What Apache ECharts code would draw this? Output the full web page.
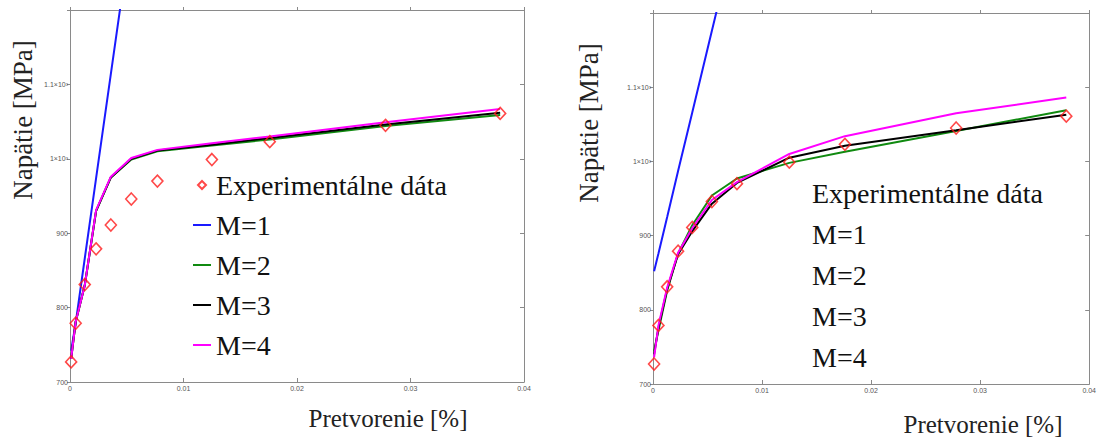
<!DOCTYPE html>
<html>
<head>
<meta charset="utf-8">
<script src="https://cdn.jsdelivr.net/npm/echarts@6/dist/echarts.min.js"></script>
<style>html,body{margin:0;padding:0;background:#fff}#c{width:1099px;height:439px}</style>
</head>
<body>
<div id="c"></div>
<script>
// ---- data ----
var strain = [0.0001, 0.0005, 0.0013, 0.0023, 0.0036, 0.0054, 0.0077, 0.0125, 0.0176, 0.0278, 0.0379];
var expStress = [727, 779, 831, 879, 911, 946, 970, 999, 1023, 1045, 1061];

// left panel models
var leftM1 = [742, 779, 866, 974, 1114, 1308];
var leftM2 = [731, 781, 830, 930, 975, 999, 1010, 1018, 1026, 1044, 1059];
var leftM3 = [731, 781, 830, 930, 975, 1000, 1011, 1019, 1028, 1046, 1062];
var leftM4 = [731, 781, 830, 931, 976, 1001, 1012, 1021, 1030, 1049, 1067];

// right panel models
var rightM1 = [852, 876, 925, 987, 1066, 1176, 1316];
var rightM2 = [745, 772, 826, 876, 914, 954, 977, 998, 1013, 1041, 1069];
var rightM3 = [740, 776, 828, 875, 906, 943, 971, 1005, 1021, 1042, 1063];
var rightM4 = [736, 779, 830, 877, 910, 948, 972, 1010, 1034, 1065, 1086];

var seriesNames = ['Experimentálne dáta', 'M=1', 'M=2', 'M=3', 'M=4'];
var yTicks = {700: '700', 800: '800', 900: '900', 1000: '1×10³', 1100: '1.1×10³'};
var xTickDecimals = 2;

function pairs(xs, ys) {
  var out = [];
  for (var i = 0; i < ys.length; i++) out.push([xs[i], ys[i]]);
  return out;
}

var serif = 'Liberation Serif';
var sans = 'Liberation Sans';
var frameColor = '#8a8a8a';
var labelColor = '#555';

function xAxisPair(gridIndex) {
  return [
    {
      type: 'value', gridIndex: gridIndex, min: 0, max: 0.04, interval: 0.01, position: 'bottom',
      axisLine: {show: true, onZero: false, lineStyle: {color: frameColor, width: 1}},
      axisTick: {show: true, inside: true, length: 4, lineStyle: {color: frameColor}},
      splitLine: {show: false},
      axisLabel: {show: true, margin: 3, fontSize: 7, fontFamily: sans, color: labelColor,
        formatter: function (v) { return v === 0 ? '0' : v.toFixed(xTickDecimals); }}
    },
    {
      type: 'value', gridIndex: gridIndex, min: 0, max: 0.04, interval: 0.01, position: 'top',
      axisLine: {show: true, onZero: false, lineStyle: {color: frameColor, width: 1}},
      axisTick: {show: true, inside: false, length: 3, lineStyle: {color: frameColor}},
      splitLine: {show: false}, axisLabel: {show: false}
    }
  ];
}
function yAxisPair(gridIndex) {
  return [
    {
      type: 'value', gridIndex: gridIndex, min: 700, max: 1200, interval: 100, position: 'left',
      axisLine: {show: true, onZero: false, lineStyle: {color: frameColor, width: 1}},
      axisTick: {show: true, inside: false, length: 3, lineStyle: {color: frameColor}},
      splitLine: {show: false},
      axisLabel: {show: true, margin: 2, fontSize: 7, fontFamily: sans, color: labelColor,
        formatter: function (v) { return yTicks[v] || ''; }}
    },
    {
      type: 'value', gridIndex: gridIndex, min: 700, max: 1200, interval: 100, position: 'right',
      axisLine: {show: true, onZero: false, lineStyle: {color: frameColor, width: 1}},
      axisTick: {show: true, inside: true, length: 4, lineStyle: {color: frameColor}},
      splitLine: {show: false}, axisLabel: {show: false}
    }
  ];
}

function lineSeries(name, color, data, gi) {
  return {
    name: name, type: 'line', xAxisIndex: gi * 2, yAxisIndex: gi * 2,
    data: data, symbol: 'none', clip: true, animation: false,
    lineStyle: {color: color, width: 2}, itemStyle: {color: color}, z: 2
  };
}
function expSeries(gi) {
  return {
    name: seriesNames[0], type: 'scatter', xAxisIndex: gi * 2, yAxisIndex: gi * 2,
    data: pairs(strain, expStress), symbol: 'diamond', symbolSize: [11, 12], animation: false,
    itemStyle: {color: 'rgba(255,255,255,0)', borderColor: '#ff1a1a', borderWidth: 1.6}, z: 3
  };
}

var blue = '#1a1aff', green = '#108a10', black = '#000000', magenta = '#ff00ff';
var lineIcon = 'path://M0,0L18,0L18,2L0,2Z';
var diamondIcon = 'path://M4,0L8,4L4,8L0,4Z';

var leftLegendData = seriesNames.map(function (n, i) {
  return {name: n, icon: i === 0 ? diamondIcon : lineIcon};
});

var option = {
  backgroundColor: '#ffffff',
  animation: false,
  grid: [
    {left: 70, top: 10, width: 454, height: 372},
    {left: 653, top: 13, width: 442, height: 371}
  ],
  xAxis: xAxisPair(0).concat(xAxisPair(1)),
  yAxis: yAxisPair(0).concat(yAxisPair(1)),
  legend: [
    {
      data: leftLegendData, orient: 'vertical', left: 193, top: 171, padding: 0, selectedMode: false,
      itemWidth: 18, itemHeight: 8, itemGap: 12, symbolKeepAspect: true,
      textStyle: {fontFamily: serif, fontSize: 28, lineHeight: 28, color: '#111'}
    },
    {
      data: seriesNames, orient: 'vertical', left: 806, top: 179, padding: 0, selectedMode: false,
      icon: 'none', itemWidth: 1, itemHeight: 8, itemGap: 13,
      textStyle: {fontFamily: serif, fontSize: 28, lineHeight: 28, color: '#111'}
    }
  ],
  graphic: [
    {type: 'text', x: 23, y: 120, rotation: Math.PI / 2,
      style: {text: 'Napätie [MPa]', font: '27px "Liberation Serif"', fill: '#222', textAlign: 'center', textVerticalAlign: 'middle'}},
    {type: 'text', x: 589, y: 123, rotation: Math.PI / 2,
      style: {text: 'Napätie [MPa]', font: '27px "Liberation Serif"', fill: '#222', textAlign: 'center', textVerticalAlign: 'middle'}},
    {type: 'text', x: 388, y: 418,
      style: {text: 'Pretvorenie [%]', font: '25px "Liberation Serif"', fill: '#222', textAlign: 'center', textVerticalAlign: 'middle'}},
    {type: 'text', x: 983, y: 424,
      style: {text: 'Pretvorenie [%]', font: '25px "Liberation Serif"', fill: '#222', textAlign: 'center', textVerticalAlign: 'middle'}}
  ],
  series: [
    lineSeries('M=1', blue, pairs(strain, leftM1), 0),
    lineSeries('M=2', green, pairs(strain, leftM2), 0),
    lineSeries('M=3', black, pairs(strain, leftM3), 0),
    lineSeries('M=4', magenta, pairs(strain, leftM4), 0),
    expSeries(0),
    lineSeries('M=1', blue, pairs(strain, rightM1), 1),
    lineSeries('M=2', green, pairs(strain, rightM2), 1),
    lineSeries('M=3', black, pairs(strain, rightM3), 1),
    lineSeries('M=4', magenta, pairs(strain, rightM4), 1),
    expSeries(1)
  ]
};

var chart = echarts.init(document.getElementById('c'), null, {renderer: 'svg', width: 1099, height: 439});
chart.setOption(option);
</script>
</body>
</html>
